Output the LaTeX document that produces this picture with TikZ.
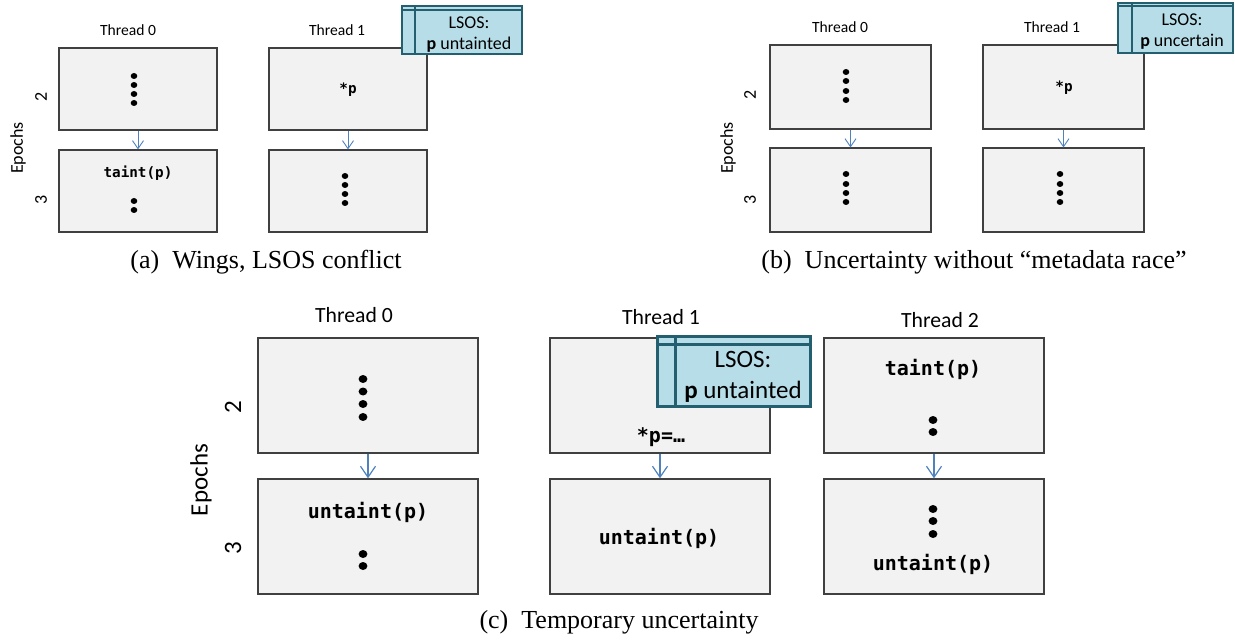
\documentclass[tikz,border=0pt]{standalone}
\usepackage{fontspec}
\setmainfont{Liberation Serif}
\newfontfamily\calfont{Carlito}
\newfontfamily\codefont{DejaVu Sans Mono}
\usetikzlibrary{arrows.meta,calc}
\definecolor{boxfill}{HTML}{F2F2F2}
\definecolor{boxline}{HTML}{404040}
\definecolor{flowblue}{HTML}{4F81BD}
\definecolor{lsosfill}{HTML}{B7DEE8}
\definecolor{lsosline}{HTML}{245F6F}
\newcommand\fsz[2]{\fontsize{#1bp}{#2bp}\selectfont}
\begin{document}
\begin{tikzpicture}[x=1bp,y=-1bp,
  ebox/.style={draw=boxline, fill=boxfill, line width=1.1bp, inner sep=0pt},
  smallbox/.style={ebox, minimum width=158bp, minimum height=82bp},
  midbox/.style={ebox, minimum width=161bp, minimum height=84bp},
  bigbox/.style={ebox, line width=1.4bp, minimum width=220bp, minimum height=115bp},
  lsos/.style={draw=lsosline, fill=lsosfill, inner sep=0pt},
  flowS/.style={draw=flowblue, line width=0.9bp, -{Straight Barb[length=8bp,width=11bp]}},
  flowL/.style={draw=flowblue, line width=1.2bp, -{Straight Barb[length=11bp,width=15bp]}},
  thrS/.style={font=\calfont\fsz{15.6}{18}, inner sep=0pt},
  thrL/.style={font=\calfont\fsz{21.7}{25}, inner sep=0pt},
  epS/.style={font=\calfont\fsz{18}{21}, rotate=90, inner sep=0pt},
  epL/.style={font=\calfont\fsz{25}{29}, rotate=90, inner sep=0pt},
  codeS/.style={font=\codefont\bfseries\fsz{14.3}{17}, inner sep=0pt},
  codeL/.style={font=\codefont\bfseries\fsz{20}{24}, inner sep=0pt},
  lsosS/.style={font=\calfont\fsz{18}{21}, align=center, inner sep=0pt},
  lsosL/.style={font=\calfont\fsz{25}{31}, align=center, inner sep=0pt},
  captext/.style={font=\fsz{26}{30}, inner sep=0pt}
]
\useasboundingbox (0,0) rectangle (1235,643);

% ================= (a) =================
\node[thrS] (aT0) at (128,30) {Thread 0};
\node[thrS] (aT1) at (337,30) {Thread 1};
\node[epS] (aEp) at (18,148) {Epochs};
\node[epS] (aE2) at (41,97) {2};
\node[epS] (aE3) at (41,200) {3};
\node[smallbox] (a02) at (138,89) {};
\node[smallbox] (a03) at (138,191) {};
\node[smallbox] (a12) at (348,89) {};
\node[smallbox] (a13) at (348,191) {};
\draw[flowS] (a02) -- (a03);
\draw[flowS] (a12) -- (a13);
\foreach \y in {76,85,94,103} \fill (134,\y) ellipse [x radius=3.3, y radius=3];
\node[codeS] (ataint) at (138,173) {taint(p)};
\foreach \y in {201,210} \fill (134,\y) ellipse [x radius=3.3, y radius=3];
\node[codeS] (aderef) at (348,90) {*p};
\foreach \y in {176,185,194,203} \fill (345,\y) ellipse [x radius=3.3, y radius=3];
\node[lsos, line width=2.2bp, minimum width=120bp, minimum height=48bp] (aL) at (462,30) {};
\draw[lsosline, line width=2.2bp] ([yshift=-5bp]aL.north west) -- ([yshift=-5bp]aL.north east);
\draw[lsosline, line width=2.2bp] ([xshift=14bp]aL.north west) -- ([xshift=14bp]aL.south west);
\node[lsosS] (aLt) at (469,35) {LSOS:\\{\bfseries p} untainted};
\node[captext] (acap) at (266,262) {(a)\enspace Wings, LSOS conflict};

% ================= (b) =================
\node[thrS] (bT0) at (840,27) {Thread 0};
\node[thrS] (bT1) at (1052,27) {Thread 1};
\node[epS] (bEp) at (728,148) {Epochs};
\node[epS] (bE2) at (750,95) {2};
\node[epS] (bE3) at (750,200) {3};
\node[midbox] (b02) at (850.5,87) {};
\node[midbox] (b03) at (850.5,190) {};
\node[midbox] (b12) at (1063.5,87) {};
\node[midbox] (b13) at (1063.5,190) {};
\draw[flowS] (b02) -- (b03);
\draw[flowS] (b12) -- (b13);
\foreach \y in {72,81,91,100} \fill (846,\y) ellipse [x radius=3.3, y radius=3];
\foreach \y in {174,184,193,202} \fill (846,\y) ellipse [x radius=3.3, y radius=3];
\node[codeS] (bderef) at (1064,88) {*p};
\foreach \y in {174,184,193,202} \fill (1060,\y) ellipse [x radius=3.3, y radius=3];
\node[lsos, line width=2.2bp, minimum width=115bp, minimum height=50bp] (bL) at (1175.5,28) {};
\draw[lsosline, line width=2.2bp] ([yshift=-4bp]bL.north west) -- ([yshift=-4bp]bL.north east);
\draw[lsosline, line width=2.2bp] ([xshift=15bp]bL.north west) -- ([xshift=15bp]bL.south west);
\node[lsosS] (bLt) at (1182,32) {LSOS:\\{\bfseries p} uncertain};
\node[captext] (bcap) at (974,262) {(b)\enspace Uncertainty without “metadata race”};

% ================= (c) =================
\node[thrL] (cT0) at (354,315) {Thread 0};
\node[thrL] (cT1) at (661,317) {Thread 1};
\node[thrL] (cT2) at (940,320) {Thread 2};
\node[epL] (cEp) at (201,480) {Epochs};
\node[epL] (cE2) at (233,407) {2};
\node[epL] (cE3) at (233,548) {3};
\node[bigbox] (c02) at (368,395.5) {};
\node[bigbox] (c03) at (368,536.5) {};
\node[bigbox] (c12) at (660,395.5) {};
\node[bigbox] (c13) at (660,536.5) {};
\node[bigbox] (c22) at (934,395.5) {};
\node[bigbox] (c23) at (934,536.5) {};
\draw[flowL] (c02) -- (c03);
\draw[flowL] (c12) -- (c13);
\draw[flowL] (c22) -- (c23);
\foreach \y in {379,391.5,404,417} \fill (363,\y) ellipse [x radius=4.4, y radius=4];
\node[codeL] (cun0) at (368,512) {untaint(p)};
\foreach \y in {554,566} \fill (363,\y) ellipse [x radius=4.4, y radius=4];
\node[codeL] (cwr1) at (661,437) {*p=…};
\node[codeL] (cun1) at (659,538) {untaint(p)};
\node[codeL] (ctaint2) at (933,369) {taint(p)};
\foreach \y in {420,432} \fill (933,\y) ellipse [x radius=4.4, y radius=4];
\foreach \y in {509,521,534} \fill (933,\y) ellipse [x radius=4.4, y radius=4];
\node[codeL] (cun2) at (933,564) {untaint(p)};
\node[lsos, line width=3bp, minimum width=153bp, minimum height=69bp] (cL) at (733.5,371.5) {};
\draw[lsosline, line width=3bp] ([yshift=-9bp]cL.north west) -- ([yshift=-9bp]cL.north east);
\draw[lsosline, line width=3bp] ([xshift=20bp]cL.north west) -- ([xshift=20bp]cL.south west);
\node[lsosL] (cLt) at (743,377) {LSOS:\\{\bfseries p} untainted};
\node[captext] (ccap) at (619,622) {(c)\enspace Temporary uncertainty};
\end{tikzpicture}
\end{document}
